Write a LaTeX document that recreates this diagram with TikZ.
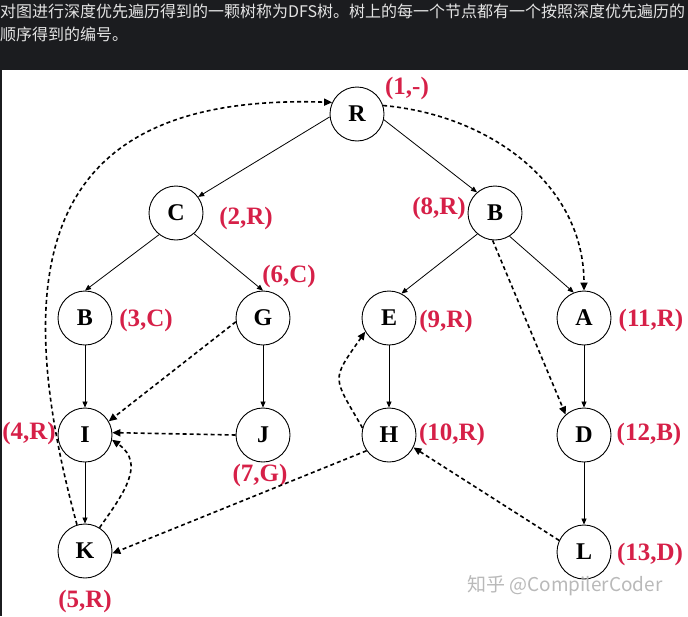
\documentclass[tikz,border=0pt]{standalone}
\usepackage{fontspec}
\setmainfont{Liberation Serif}
\newfontfamily\cjk{Noto Sans CJK SC}
\usetikzlibrary{positioning, arrows.meta}

\definecolor{numred}{RGB}{214,32,72}
\definecolor{bandbg}{RGB}{27,28,31}
\definecolor{bandtxt}{RGB}{228,228,228}

\begin{document}
\begin{tikzpicture}[
    x=1pt, y=1pt,
    vnode/.style={circle, draw, minimum size=54pt, inner sep=0pt, line width=0.9pt, font=\fontsize{24}{28}\selectfont\bfseries},
    num/.style={text=numred, inner sep=0pt, font=\fontsize{25}{28}\selectfont\bfseries},
    tedge/.style={-{Triangle[length=6pt, width=5pt]}, line width=0.8pt},
    dedge/.style={-{Triangle[length=8pt, width=7pt]}, line width=1.6pt, dash pattern=on 4pt off 3pt}
]

\useasboundingbox (0,0) rectangle (688,-616);

% === HEADER ===
\fill[bandbg] (0,0) rectangle (688,-70);
\node[anchor=north west, align=left, inner sep=0pt, text=bandtxt, font=\cjk\fontsize{16}{23}\selectfont] (hdr) at (0,-4)
    {对图进行深度优先遍历得到的一颗树称为DFS树。树上的每一个节点都有一个按照深度优先遍历的\\顺序得到的编号。};
\draw[bandbg, line width=1.5pt] (0.75,-70) -- (0.75,-616);

% === TREE NODES ===
\node[vnode] (R) at (357,-114) {R};
\node[vnode] (C) at (176,-213) {C};
\node[vnode] (B) at (495,-213) {B};
\node[vnode] (Bl) at (85,-318) {B};
\node[vnode] (G) at (263,-318) {G};
\node[vnode] (E) at (389,-318) {E};
\node[vnode] (A) at (584,-318) {A};
\node[vnode] (I) at (85,-435) {I};
\node[vnode] (J) at (263,-435) {J};
\node[vnode] (H) at (389,-435) {H};
\node[vnode] (D) at (584,-435) {D};
\node[vnode] (K) at (85,-551) {K};
\node[vnode] (L) at (584,-552) {L};

% === DFS NUMBERS ===
\node[num] (nR) at (407,-88) {(1,-)};
\node[num] (nC) at (246,-218) {(2,R)};
\node[num] (nBl) at (146,-320) {(3,C)};
\node[num] (nI) at (29,-433) {(4,R)};
\node[num] (nK) at (85,-601) {(5,R)};
\node[num] (nG) at (289,-276) {(6,C)};
\node[num] (nJ) at (260,-475) {(7,G)};
\node[num] (nB) at (439,-208) {(8,R)};
\node[num] (nE) at (446,-321) {(9,R)};
\node[num] (nH) at (452,-434) {(10,R)};
\node[num] (nA) at (651,-320) {(11,R)};
\node[num] (nD) at (649,-434) {(12,B)};
\node[num] (nL) at (650,-554) {(13,D)};

% === TREE EDGES ===
\draw[tedge] (R.186) -- (C.36);
\draw[tedge] (R.-12) -- (B.131);
\draw[tedge] (C.232) -- (Bl.north);
\draw[tedge] (C.-49) -- (G.north);
\draw[tedge] (B.230) -- (E.63);
\draw[tedge] (B.-58) -- (A.112);
\draw[tedge] (Bl) -- (I);
\draw[tedge] (G) -- (J);
\draw[tedge] (E) -- (H);
\draw[tedge] (A) -- (D);
\draw[tedge] (I) -- (K);
\draw[tedge] (D) -- (L);

% === NON-TREE EDGES ===
\draw[dedge] (R.18) to[out=-5, in=90] (A.north);
\draw[dedge] (K.107) .. controls (2,-250) and (52,-93) .. (R.155);
\draw[dedge] (B.265) -- (D.132);
\draw[dedge] (G.188) -- (I.30);
\draw[dedge] (J.180) -- (I.5);
\draw[dedge] (K.58) to[out=55, in=-35, looseness=1.2] (I.-10);
\draw[dedge] (H.165) to[out=120, in=235, looseness=1.6] (E.210);
\draw[dedge] (H.215) -- (K.355);
\draw[dedge] (L.155) -- (H.-27);

% watermark
\node[text=gray!55, inner sep=0pt, font=\cjk\fontsize{19}{21}\selectfont] (wm) at (565,-586) {知乎 @CompilerCoder};

\end{tikzpicture}
\end{document}
